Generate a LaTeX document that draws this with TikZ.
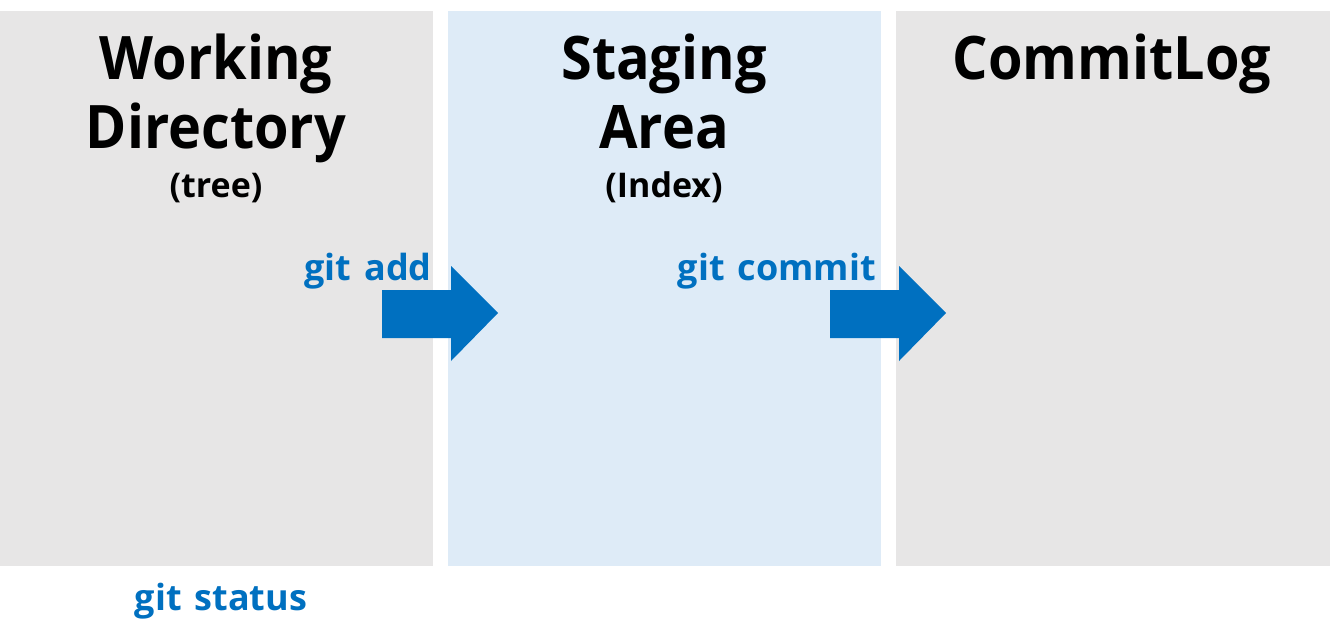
\documentclass[tikz,border=0pt]{standalone}
\usepackage{fontspec}
\setmainfont{Open Sans}
\newfontfamily\titlefont[FakeStretch=0.93]{Open Sans}
\definecolor{panelgray}{HTML}{E7E6E6}
\definecolor{panelblue}{HTML}{DEEBF7}
\definecolor{gitblue}{HTML}{0070C0}
\begin{document}
\begin{tikzpicture}[x=1pt,y=-1pt,
  title/.style={font=\titlefont\bfseries\fontsize{60}{68}\selectfont, text=black, inner sep=0pt, anchor=base},
  sub/.style={font=\bfseries\fontsize{34}{38}\selectfont, text=black, inner sep=0pt, anchor=base},
  cmd/.style={font=\bfseries\fontsize{36}{42}\selectfont, text=gitblue, inner sep=0pt},
  bigarrow/.style={fill=gitblue, draw=none}]
\useasboundingbox (0,0) rectangle (1330,642);
\fill[white] (0,0) rectangle (1330,642);
% panels
\fill[panelgray] (0,11) rectangle (433,566);
\fill[panelblue] (448,11) rectangle (881,566);
\fill[panelgray] (896,11) rectangle (1330,566);
% titles
\node[title] (wd1) at (216,80) {Working};
\node[title] (wd2) at (216,148) {Directory};
\node[sub] (wd3) at (216,197) {(tree)};
\node[title] (sa1) at (664,80) {Staging};
\node[title] (sa2) at (664,148) {Area};
\node[sub] (sa3) at (664,197) {(Index)};
\node[title] (cl) at (1112,80) {CommitLog};
% arrows
\fill[bigarrow] (382,290) -- (451,290) -- (451,266) -- (498,313) -- (451,361) -- (451,338) -- (382,338) -- cycle;
\fill[bigarrow] (830,290) -- (899,290) -- (899,266) -- (946,313) -- (899,361) -- (899,338) -- (830,338) -- cycle;
% commands
\node[cmd, anchor=base east] (add) at (432,280) {git\hspace{0.1em} add};
\node[cmd, anchor=base east] (commit) at (876,280) {git\hspace{0.1em} commit};
\node[cmd, anchor=base] (status) at (221,610) {git\hspace{0.1em} status};
\end{tikzpicture}
\end{document}
